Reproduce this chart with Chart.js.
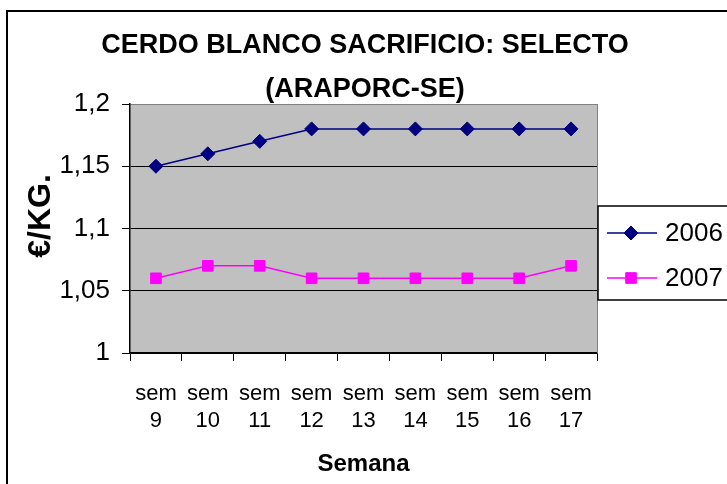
<!DOCTYPE html>
<html>
<head>
<meta charset="utf-8">
<script src="https://cdn.jsdelivr.net/npm/chart.js@4.4.0/dist/chart.umd.min.js"></script>
<style>
  html, body { margin: 0; padding: 0; background: #fff; }
</style>
</head>
<body>
<canvas id="precioChart" width="727" height="484"></canvas>
<script>
const semanas = [
  ['sem', '9'], ['sem', '10'], ['sem', '11'], ['sem', '12'], ['sem', '13'],
  ['sem', '14'], ['sem', '15'], ['sem', '16'], ['sem', '17']
];
const precios2006 = [1.15, 1.16, 1.17, 1.18, 1.18, 1.18, 1.18, 1.18, 1.18];
const precios2007 = [1.06, 1.07, 1.07, 1.06, 1.06, 1.06, 1.06, 1.06, 1.07];
const titulo = ['CERDO BLANCO SACRIFICIO: SELECTO', '(ARAPORC-SE)'];
const tituloY = '€/KG.';
const yMin = 1, yMax = 1.2, yPaso = 0.05;

Chart.defaults.font.family = '"Liberation Sans", Arial, sans-serif';
Chart.defaults.color = '#000';

// fondo blanco, marco exterior y zona gris del grafico
const fondo = {
  id: 'fondo',
  beforeDraw(chart) {
    const { ctx, chartArea: a } = chart;
    ctx.save();
    ctx.fillStyle = '#fff';
    ctx.fillRect(0, 0, chart.width, chart.height);
    ctx.strokeStyle = '#000';
    ctx.lineWidth = 2;
    ctx.strokeRect(7, 11, 760, 520);
    ctx.fillStyle = '#C0C0C0';
    ctx.fillRect(a.left, a.top, a.right - a.left, a.bottom - a.top);
    ctx.restore();
  },
  beforeDatasetsDraw(chart) {
    const { ctx, chartArea: a } = chart;
    ctx.save();
    ctx.strokeStyle = '#808080';
    ctx.lineWidth = 1;
    ctx.beginPath();
    ctx.moveTo(a.right + 0.5, a.top);
    ctx.lineTo(a.right + 0.5, a.bottom);
    ctx.stroke();
    ctx.restore();
  }
};

// titulo de dos lineas, titulo del eje Y y leyenda con recuadro
const textos = {
  id: 'textos',
  afterDraw(chart) {
    const ctx = chart.ctx;
    ctx.save();
    ctx.fillStyle = '#000';
    ctx.textAlign = 'center';
    ctx.textBaseline = 'alphabetic';
    ctx.font = 'bold 27px "Liberation Sans", Arial, sans-serif';
    ctx.fillText(titulo[0], 365, 53);
    ctx.fillText(titulo[1], 365, 97);

    ctx.save();
    ctx.translate(50, 216);
    ctx.rotate(-Math.PI / 2);
    ctx.font = 'bold 32px "Liberation Sans", Arial, sans-serif';
    ctx.fillText(tituloY, 0, 0);
    ctx.restore();

    // leyenda
    ctx.fillStyle = '#fff';
    ctx.fillRect(598, 206, 140, 94);
    ctx.strokeStyle = '#000';
    ctx.lineWidth = 1.5;
    ctx.strokeRect(598, 206, 140, 94);
    ctx.font = '26px "Liberation Sans", Arial, sans-serif';
    ctx.textAlign = 'left';
    ctx.textBaseline = 'middle';
    chart.data.datasets.forEach((ds, i) => {
      const y = 233 + i * 45;
      ctx.strokeStyle = ds.borderColor;
      ctx.lineWidth = ds.borderWidth;
      ctx.beginPath();
      ctx.moveTo(607, y);
      ctx.lineTo(657, y);
      ctx.stroke();
      ctx.fillStyle = ds.backgroundColor;
      ctx.strokeStyle = ds.borderColor;
      ctx.lineWidth = 1;
      Chart.helpers.drawPoint(ctx, { pointStyle: ds.pointStyle, radius: ds.pointRadius, rotation: 0, borderWidth: 1 }, 631, y);
      ctx.fillStyle = '#000';
      ctx.fillText(ds.label, 665, y + 1);
    });
    ctx.restore();
  }
};

const ctx = document.getElementById('precioChart').getContext('2d');
const chart = new Chart(ctx, {
  type: 'line',
  data: {
    labels: semanas,
    datasets: [{
      label: '2006',
      data: precios2006,
      borderColor: '#000080',
      backgroundColor: '#000080',
      borderWidth: 1.5,
      pointStyle: 'rectRot',
      pointRadius: 7,
      pointBorderWidth: 1,
      tension: 0
    }, {
      label: '2007',
      data: precios2007,
      borderColor: '#FF00FF',
      backgroundColor: '#FF00FF',
      borderWidth: 1.5,
      pointStyle: 'rect',
      pointRadius: 7.5,
      pointBorderWidth: 1,
      tension: 0
    }]
  },
  options: {
    responsive: false,
    animation: false,
    devicePixelRatio: 1,
    layout: { padding: { top: 104, right: 130, bottom: 0, left: 0 } },
    plugins: {
      legend: { display: false },
      tooltip: { enabled: false },
      title: { display: false }
    },
    scales: {
      x: {
        offset: true,
        afterFit: s => { s.height = 131; },
        ticks: { font: { size: 22, lineHeight: 1.25 }, color: '#000', padding: 19, autoSkip: false, maxRotation: 0 },
        grid: { offset: true, drawOnChartArea: false, tickColor: '#000', tickLength: 8 },
        border: { color: '#000', width: 1.5 },
        title: { display: true, text: 'Semana', font: { size: 24, weight: 'bold' }, color: '#000', padding: { top: 0, bottom: 5 } }
      },
      y: {
        min: yMin,
        max: yMax,
        afterFit: s => { s.width = 130; },
        ticks: {
          stepSize: yPaso,
          font: { size: 26 },
          color: '#000',
          padding: 12,
          callback: v => String(Math.round(v * 100) / 100).replace('.', ',')
        },
        grid: {
          color: c => (c.tick && c.tick.value >= yMax - 1e-9) ? '#808080' : '#000',
          tickColor: '#000',
          tickLength: 8,
          lineWidth: 1
        },
        border: { color: '#000', width: 1.5 },
        title: { display: false }
      }
    }
  },
  plugins: [fondo, textos]
});
</script>
</body>
</html>
